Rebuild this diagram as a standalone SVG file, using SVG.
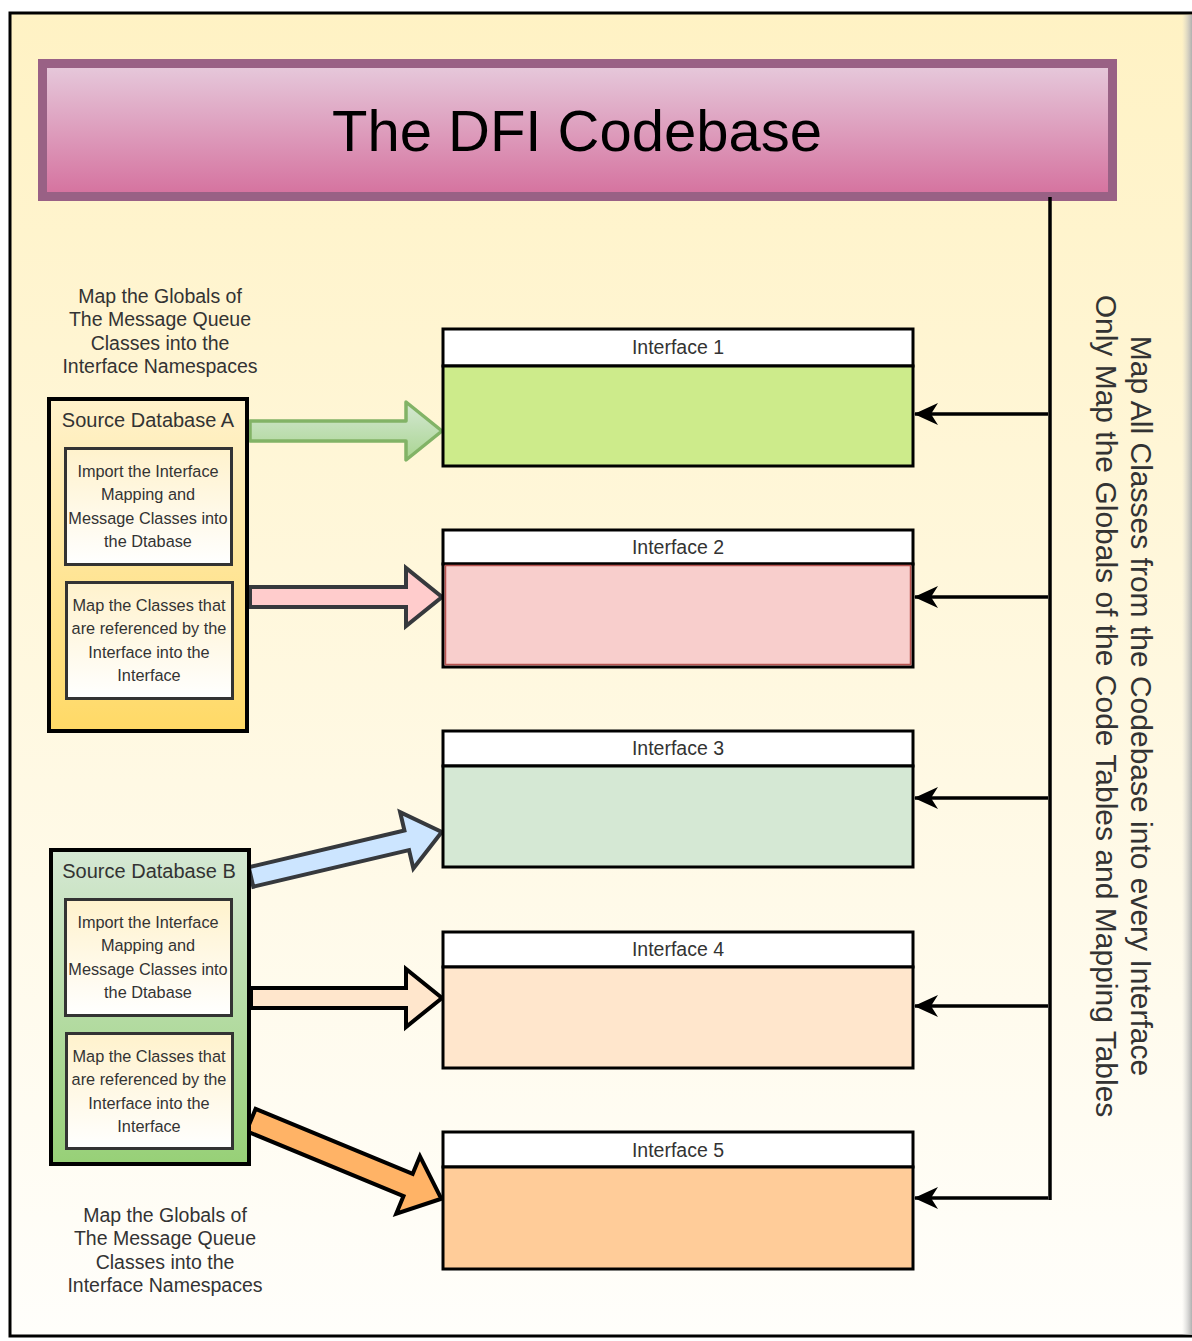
<svg xmlns="http://www.w3.org/2000/svg" width="1192" height="1341" viewBox="0 0 1192 1341">
<defs>
<linearGradient id="bg" x1="0" y1="0" x2="0" y2="1"><stop offset="0" stop-color="#fff2c4"/><stop offset="1" stop-color="#fffefb"/></linearGradient>
<linearGradient id="title" x1="0" y1="0" x2="0" y2="1"><stop offset="0" stop-color="#e6cadc"/><stop offset="1" stop-color="#d5719e"/></linearGradient>
<linearGradient id="dbA" x1="0" y1="0" x2="0" y2="1"><stop offset="0" stop-color="#fff2cc"/><stop offset="1" stop-color="#ffd966"/></linearGradient>
<linearGradient id="dbB" x1="0" y1="0" x2="0" y2="1"><stop offset="0" stop-color="#d5e8d4"/><stop offset="1" stop-color="#97d077"/></linearGradient>
<linearGradient id="inner" x1="0" y1="0" x2="0" y2="1"><stop offset="0" stop-color="#fff2cc"/><stop offset="1" stop-color="#ffffff"/></linearGradient>
<linearGradient id="green" x1="0" y1="0" x2="0" y2="1"><stop offset="0" stop-color="#d5e8d4"/><stop offset="1" stop-color="#a9d591"/></linearGradient>
<linearGradient id="shadow" x1="0" y1="0" x2="1" y2="0"><stop offset="0" stop-color="#cfcfcf" stop-opacity="0"/><stop offset="1" stop-color="#b0b0b0"/></linearGradient>
<marker id="arr" viewBox="0 0 24 24" refX="23" refY="12" markerWidth="24" markerHeight="24" markerUnits="userSpaceOnUse" orient="auto">
<path d="M0,1 L24,12 L0,23 L7,12 Z" fill="#000"/>
</marker>
</defs>
<style>
text{font-family:"Liberation Sans",Arial,sans-serif;fill:#333;text-anchor:middle}
.ifh{fill:#fff;stroke:#000;stroke-width:3}
.ifb{stroke:#000;stroke-width:3}
.lbl{font-size:19.5px}
.db{stroke:#000;stroke-width:4}
.in{fill:url(#inner);stroke:#333;stroke-width:3}
.sm{font-size:16.3px}
.note{font-size:19.5px}
.conn{stroke:#000;stroke-width:3.5;fill:none}
.blk{stroke-width:4;stroke-linejoin:miter}
.side{font-size:30px}
</style>
<rect x="10" y="13" width="1185" height="1323" fill="url(#bg)" stroke="#000" stroke-width="3"/>
<rect x="1182" y="15" width="10" height="1320" fill="url(#shadow)"/>

<g id="title-node">
<rect x="42.5" y="63.5" width="1070" height="133" fill="url(#title)" stroke="#996185" stroke-width="9"/>
<text x="577" y="151" style="font-size:58px;fill:#000">The DFI Codebase</text>
</g>

<g id="connectors">
<line class="conn" x1="1050" y1="197" x2="1050" y2="1200"/>
<line class="conn" x1="1048" y1="414" x2="915" y2="414" marker-end="url(#arr)"/>
<line class="conn" x1="1048" y1="597" x2="915" y2="597" marker-end="url(#arr)"/>
<line class="conn" x1="1048" y1="798" x2="915" y2="798" marker-end="url(#arr)"/>
<line class="conn" x1="1048" y1="1006" x2="915" y2="1006" marker-end="url(#arr)"/>
<line class="conn" x1="1048" y1="1198" x2="915" y2="1198" marker-end="url(#arr)"/>
<path transform="translate(250,431)" d="M0,-10 L156,-10 L156,-29 L192,0 L156,29 L156,10 L0,10 Z" fill="url(#green)" stroke="#82b366" stroke-width="3.5" stroke-linejoin="round"/>
<path class="blk" transform="translate(250,597)" d="M0,-10 L156,-10 L156,-29 L192,0 L156,29 L156,10 L0,10 Z" fill="#ffcccc" stroke="#36393d"/>
<path class="blk" transform="translate(251,877) rotate(-13.26)" d="M0,-10 L160,-10 L160,-29 L196,0 L160,29 L160,10 L0,10 Z" fill="#cce5ff" stroke="#36393d"/>
<path class="blk" transform="translate(251,998)" d="M0,-10 L155,-10 L155,-29 L191,0 L155,29 L155,10 L0,10 Z" fill="#ffe6cc" stroke="#000"/>
<path class="blk" transform="translate(251,1120) rotate(22.47)" d="M0,-12 L170,-12 L170,-31 L206,0 L170,31 L170,12 L0,12 Z" fill="#ffb366" stroke="#000"/>
</g>

<g id="interface1">
<rect class="ifh" x="443" y="329" width="470" height="37"/>
<rect class="ifb" x="443" y="366" width="470" height="100" fill="#cdeb8b"/>
<text class="lbl" x="678" y="354">Interface 1</text>
</g>
<g id="interface2">
<rect class="ifh" x="443" y="530" width="470" height="34"/>
<rect class="ifb" x="443" y="564" width="470" height="103" fill="#f8cecc"/>
<rect x="445.5" y="565.5" width="465" height="99" fill="none" stroke="#b85450" stroke-width="1.5"/>
<text class="lbl" x="678" y="554">Interface 2</text>
</g>
<g id="interface3">
<rect class="ifh" x="443" y="731" width="470" height="35"/>
<rect class="ifb" x="443" y="766" width="470" height="101" fill="#d5e8d4"/>
<text class="lbl" x="678" y="755">Interface 3</text>
</g>
<g id="interface4">
<rect class="ifh" x="443" y="932" width="470" height="35"/>
<rect class="ifb" x="443" y="967" width="470" height="101" fill="#ffe6cc"/>
<text class="lbl" x="678" y="956">Interface 4</text>
</g>
<g id="interface5">
<rect class="ifh" x="443" y="1132" width="470" height="35"/>
<rect class="ifb" x="443" y="1167" width="470" height="102" fill="#ffcc99"/>
<text class="lbl" x="678" y="1157">Interface 5</text>
</g>

<g id="sourceA">
<rect class="db" x="49" y="399" width="198" height="332" fill="url(#dbA)"/>
<text x="148" y="427" style="font-size:20px">Source Database A</text>
</g>
<g id="sourceA-import">
<rect class="in" x="65.5" y="448.5" width="166" height="116"/>
<text class="sm" x="148" y="477">Import the Interface</text>
<text class="sm" x="148" y="500">Mapping and</text>
<text class="sm" x="148" y="524">Message Classes into</text>
<text class="sm" x="148" y="547">the Dtabase</text>
</g>
<g id="sourceA-map">
<rect class="in" x="66.5" y="582.5" width="166" height="116"/>
<text class="sm" x="149" y="611">Map the Classes that</text>
<text class="sm" x="149" y="634">are referenced by the</text>
<text class="sm" x="149" y="658">Interface into the</text>
<text class="sm" x="149" y="681">Interface</text>
</g>

<g id="sourceB">
<rect class="db" x="51" y="850" width="198" height="314" fill="url(#dbB)"/>
<text x="149" y="878" style="font-size:20px">Source Database B</text>
</g>
<g id="sourceB-import">
<rect class="in" x="65.5" y="899.5" width="166" height="116"/>
<text class="sm" x="148" y="928">Import the Interface</text>
<text class="sm" x="148" y="951">Mapping and</text>
<text class="sm" x="148" y="975">Message Classes into</text>
<text class="sm" x="148" y="998">the Dtabase</text>
</g>
<g id="sourceB-map">
<rect class="in" x="66.5" y="1033.5" width="166" height="115"/>
<text class="sm" x="149" y="1062">Map the Classes that</text>
<text class="sm" x="149" y="1085">are referenced by the</text>
<text class="sm" x="149" y="1109">Interface into the</text>
<text class="sm" x="149" y="1132">Interface</text>
</g>

<g id="noteA">
<text class="note" x="160" y="303">Map the Globals of</text>
<text class="note" x="160" y="326">The Message Queue</text>
<text class="note" x="160" y="350">Classes into the</text>
<text class="note" x="160" y="373">Interface Namespaces</text>
</g>
<g id="noteB">
<text class="note" x="165" y="1222">Map the Globals of</text>
<text class="note" x="165" y="1245">The Message Queue</text>
<text class="note" x="165" y="1269">Classes into the</text>
<text class="note" x="165" y="1292">Interface Namespaces</text>
</g>

<g id="side-label">
<text class="side" transform="translate(1131,706) rotate(90)">Map All Classes from the Codebase into every Interface</text>
<text class="side" transform="translate(1096,706) rotate(90)">Only Map the Globals of the Code Tables and Mapping Tables</text>
</g>
</svg>
